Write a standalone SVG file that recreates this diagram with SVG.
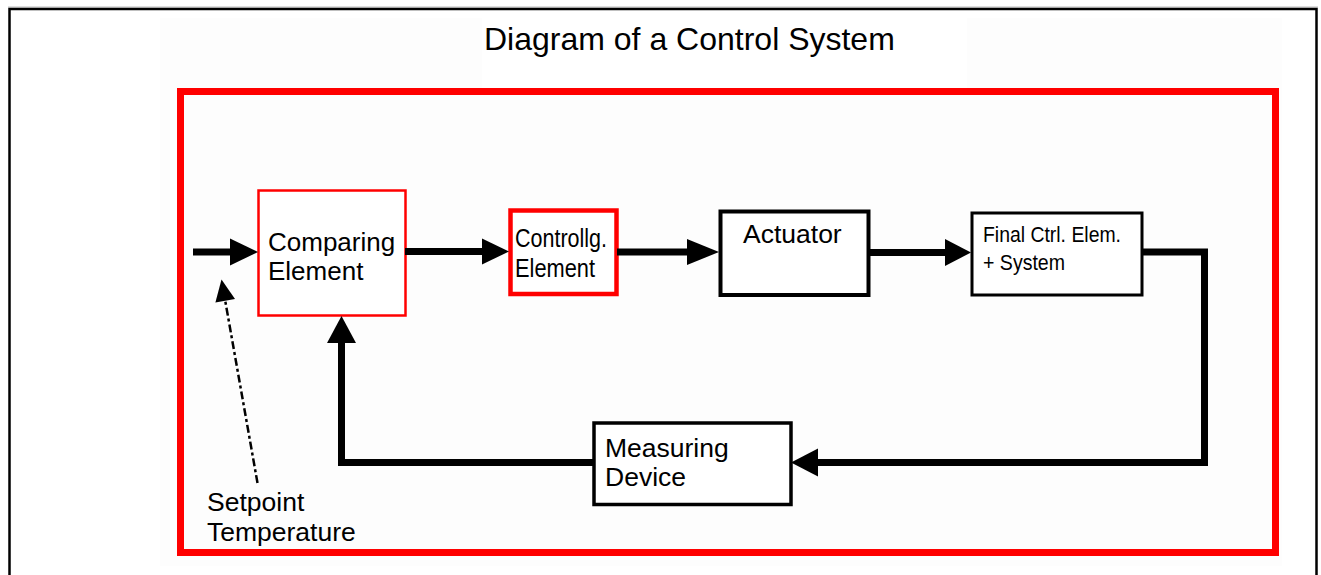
<svg xmlns="http://www.w3.org/2000/svg" width="1321" height="575" viewBox="0 0 1321 575">
  <style>
    .lbl { font-family: "Liberation Sans", Arial, sans-serif; fill: #000; }
    .box { fill: #fff; }
    .red { stroke: #ff0000; }
    .blk { stroke: #000; }
    .wire { fill: none; stroke: #000; stroke-width: 7; stroke-linejoin: miter; stroke-linecap: butt; }
    .head { fill: #000; stroke: none; }
  </style>

  <!-- page -->
  <rect x="0" y="0" width="1321" height="575" fill="#ffffff"/>
  <rect x="160" y="18" width="1122" height="548" fill="#fdfdfd"/>
  <rect x="482" y="18" width="485" height="71" fill="#ffffff"/>

  <!-- outer sheet border -->
  <line x1="8" y1="7" x2="1318" y2="7" stroke="#bdbdbd" stroke-width="1"/>
  <path d="M9.5,575 V9 H1316.5 V575" fill="none" stroke="#000" stroke-width="2.5"/>

  <!-- title -->
  <text class="lbl" x="484" y="50" font-size="32">Diagram of a Control System</text>

  <!-- system frame -->
  <rect x="180.5" y="91.5" width="1095" height="461" fill="none" stroke="#ff0000" stroke-width="7"/>

  <!-- nodes -->
  <g id="comparing-element">
    <rect class="box red" x="258.5" y="190.5" width="147" height="125" stroke-width="2.5"/>
    <text class="lbl" font-size="26"><tspan x="268" y="251">Comparing</tspan><tspan x="268" y="280">Element</tspan></text>
  </g>

  <g id="controlling-element">
    <rect class="box red" x="510.5" y="210.5" width="106" height="83.5" stroke-width="4.5"/>
    <text class="lbl" font-size="26">
      <tspan x="515" y="247" textLength="92" lengthAdjust="spacingAndGlyphs">Controllg.</tspan>
    </text>
    <text class="lbl" font-size="26">
      <tspan x="515" y="277" textLength="80" lengthAdjust="spacingAndGlyphs">Element</tspan>
    </text>
  </g>

  <g id="actuator">
    <rect class="box blk" x="720.5" y="211.5" width="148" height="83.5" stroke-width="4"/>
    <text class="lbl" x="743" y="243" font-size="26.5">Actuator</text>
  </g>

  <g id="final-control-element">
    <rect class="box blk" x="972" y="213" width="170" height="82" stroke-width="3"/>
    <text class="lbl" font-size="22">
      <tspan x="983" y="242" textLength="138" lengthAdjust="spacingAndGlyphs">Final Ctrl. Elem.</tspan>
    </text>
    <text class="lbl" font-size="22">
      <tspan x="983" y="270" textLength="82" lengthAdjust="spacingAndGlyphs">+ System</tspan>
    </text>
  </g>

  <g id="measuring-device">
    <rect class="box blk" x="594" y="423" width="197" height="81.5" stroke-width="3.5"/>
    <text class="lbl" font-size="26.5"><tspan x="605" y="457">Measuring</tspan><tspan x="605" y="486">Device</tspan></text>
  </g>

  <g id="setpoint-label">
    <text class="lbl" font-size="26.5"><tspan x="207" y="511">Setpoint</tspan><tspan x="207" y="541">Temperature</tspan></text>
  </g>

  <!-- connectors -->
  <g id="connectors">
    <!-- input into comparator -->
    <line class="wire" x1="193" y1="252" x2="232" y2="252"/>
    <polygon class="head" points="258,252 230,238.5 230,265.5"/>

    <!-- comparator to controlling element -->
    <line class="wire" x1="405" y1="251.5" x2="484" y2="251.5"/>
    <polygon class="head" points="509,251.5 482,238.5 482,264.5"/>

    <!-- controlling element to actuator -->
    <line class="wire" x1="617" y1="252" x2="689" y2="252"/>
    <polygon class="head" points="719,252 687,239 687,265"/>

    <!-- actuator to final control element -->
    <line class="wire" x1="869" y1="252.5" x2="947" y2="252.5"/>
    <polygon class="head" points="971,252.5 945,239 945,266"/>

    <!-- process output back to measuring device -->
    <polyline class="wire" points="1142,252 1204.5,252 1204.5,462.5 816,462.5"/>
    <polygon class="head" points="791,462.5 818,448.5 818,476.5"/>

    <!-- measurement fed back to comparator -->
    <polyline class="wire" points="593,462.5 341.5,462.5 341.5,340"/>
    <polygon class="head" points="341.5,316 327,343 356,343"/>

    <!-- setpoint pointer -->
    <line x1="257.5" y1="483" x2="225.2" y2="300.7" stroke="#000" stroke-width="2.5" stroke-dasharray="8 3 3 3"/>
    <polygon class="head" points="221.5,279.5 235,299 215.4,302.4"/>
  </g>
</svg>
